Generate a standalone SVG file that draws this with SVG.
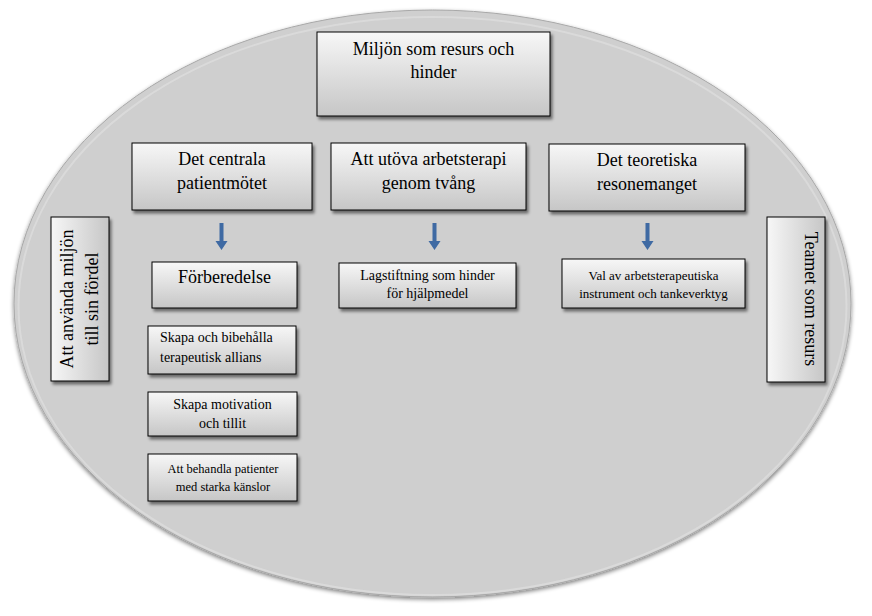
<svg xmlns="http://www.w3.org/2000/svg" width="872" height="616" viewBox="0 0 872 616" font-family="'Liberation Serif', 'Times New Roman', serif">
<defs>
<linearGradient id="box" x1="0" y1="0" x2="0" y2="1">
<stop offset="0" stop-color="#f7f7f7"/>
<stop offset="1" stop-color="#c6c6c6"/>
</linearGradient>
<linearGradient id="boxv" x1="0" y1="0" x2="1" y2="0">
<stop offset="0" stop-color="#f7f7f7"/>
<stop offset="1" stop-color="#c6c6c6"/>
</linearGradient>
<filter id="sh" x="-10%" y="-10%" width="130%" height="130%">
<feGaussianBlur in="SourceAlpha" stdDeviation="1.5"/>
<feOffset dx="2" dy="3" result="b"/>
<feComponentTransfer><feFuncA type="linear" slope="0.5"/></feComponentTransfer>
<feMerge><feMergeNode/><feMergeNode in="SourceGraphic"/></feMerge>
</filter>
<filter id="esh" x="-5%" y="-5%" width="110%" height="112%">
<feGaussianBlur in="SourceAlpha" stdDeviation="2"/>
<feOffset dx="0" dy="2"/>
<feComponentTransfer><feFuncA type="linear" slope="0.5"/></feComponentTransfer>
<feMerge><feMergeNode/><feMergeNode in="SourceGraphic"/></feMerge>
</filter>
</defs>
<style>
.b{fill:url(#box);stroke:#000;stroke-width:1;filter:url(#sh)}
text{font-family:'Liberation Serif','Times New Roman',serif;fill:#000;text-anchor:middle}
.f18{font-size:18px}
.f14{font-size:14px}
.f13{font-size:13px}
.f12{font-size:12.5px}
.ar{fill:#3f6aa3}
</style>
<rect width="872" height="616" fill="#fff"/>
<g id="background">
<ellipse cx="432.5" cy="303.5" rx="418.5" ry="293.5" fill="#cfcfcf" stroke="#a8a8a8" stroke-width="1" filter="url(#esh)"/>
<ellipse cx="432.5" cy="306" rx="414" ry="289" fill="none" stroke="#e6e6e6" stroke-width="2" opacity="0.5"/>
</g>
<g id="n-miljon">
<rect class="b" x="317" y="32" width="233" height="84"/>
<text class="f18" x="433.5" y="55">Miljön som resurs och</text>
<text class="f18" x="433.5" y="78">hinder</text>
</g>
<g id="n-centrala">
<rect class="b" x="132" y="143" width="180" height="67"/>
<text class="f18" x="222" y="165">Det centrala</text>
<text class="f18" x="222" y="189">patientmötet</text>
</g>
<g id="n-tvang">
<rect class="b" x="331" y="143" width="195" height="67"/>
<text class="f18" x="428.5" y="165">Att utöva arbetsterapi</text>
<text class="f18" x="428.5" y="189">genom tvång</text>
</g>
<g id="n-teoretiska">
<rect class="b" x="549" y="144" width="196" height="67"/>
<text class="f18" x="647" y="166">Det teoretiska</text>
<text class="f18" x="647" y="190">resonemanget</text>
</g>
<g id="n-anvanda">
<rect class="b" x="51" y="217" width="58" height="164" style="fill:url(#boxv)"/>
<text class="f18" transform="translate(73,299) rotate(-90)">Att använda miljön</text>
<text class="f18" transform="translate(98,299) rotate(-90)">till sin fördel</text>
</g>
<g id="n-teamet">
<rect class="b" x="767" y="217" width="58" height="165" style="fill:url(#boxv)"/>
<text class="f18" transform="translate(805,299) rotate(90)">Teamet som resurs</text>
</g>
<g id="n-forberedelse">
<rect class="b" x="152" y="262" width="145" height="46"/>
<text class="f18" x="224.5" y="283">Förberedelse</text>
</g>
<g id="n-lagstiftning">
<rect class="b" x="339" y="263" width="177" height="45"/>
<text class="f14" x="427.5" y="280">Lagstiftning som hinder</text>
<text class="f14" x="427.5" y="298">för hjälpmedel</text>
</g>
<g id="n-val">
<rect class="b" x="562" y="259" width="183" height="49"/>
<text class="f13" x="653.5" y="280">Val av arbetsterapeutiska</text>
<text class="f13" x="653.5" y="298">instrument och tankeverktyg</text>
</g>
<g id="n-allians">
<rect class="b" x="148" y="326" width="148" height="48"/>
<text class="f14" x="160" y="342" style="text-anchor:start">Skapa och bibehålla</text>
<text class="f14" x="160" y="362" style="text-anchor:start">terapeutisk allians</text>
</g>
<g id="n-motivation">
<rect class="b" x="148" y="392" width="149" height="44"/>
<text class="f14" x="222.5" y="409">Skapa motivation</text>
<text class="f14" x="222.5" y="428">och tillit</text>
</g>
<g id="n-kanslor">
<rect class="b" x="148" y="454" width="149" height="47"/>
<text class="f12" x="223" y="473">Att behandla patienter</text>
<text class="f12" x="223" y="491">med starka känslor</text>
</g>
<g id="connectors">
<path class="ar" d="M219.5,223 h4 v18 h4 l-6,9 l-6,-9 h4 z"/>
<path class="ar" d="M432.5,223 h4 v18 h4 l-6,9 l-6,-9 h4 z"/>
<path class="ar" d="M645.5,223 h4 v18 h4 l-6,9 l-6,-9 h4 z"/>
</g>
</svg>
